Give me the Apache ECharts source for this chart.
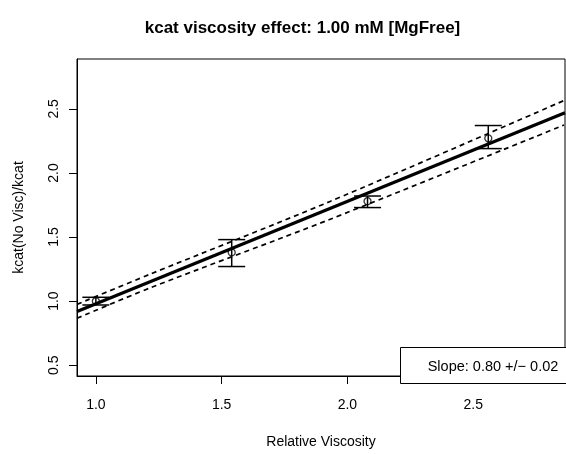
<!DOCTYPE html>
<html>
<head>
<meta charset="utf-8">
<script src="https://cdn.jsdelivr.net/npm/echarts@6/dist/echarts.min.js"></script>
<style>
html,body{margin:0;padding:0;background:#fff;}
#chart{width:566px;height:454px;}
</style>
</head>
<body>
<div id="chart"></div>
<script>
// ---- data ----
var titleText = "kcat viscosity effect: 1.00 mM [MgFree]";
var xName = "Relative Viscosity";
var yName = "kcat(No Visc)/kcat";
var legendText = "Slope: 0.80 +/\u2212 0.02";

var viscosity = [1.00, 1.54, 2.08, 2.56];
var ratio     = [1.00, 1.38, 1.78, 2.27];
var errLow    = [0.97, 1.27, 1.73, 2.19];
var errHigh   = [1.03, 1.48, 1.82, 2.37];

var fitX = [0.925, 2.865];
var fitY = [0.92, 2.47];

var bandX     = [0.925, 1.214, 1.929, 2.861];
var bandUpper = [0.975, 1.209, 1.776, 2.565];
var bandLower = [0.866, 1.102, 1.637, 2.374];

var xTicks = [1.0, 1.5, 2.0, 2.5];
var yTicks = [0.5, 1.0, 1.5, 2.0, 2.5];
var xRange = [0.925, 2.865];
var yRange = [0.416, 2.889];

function pairs(xs, ys){ return xs.map(function(x,i){ return [x, ys[i]]; }); }

var FONT = "Liberation Sans";
var chart = echarts.init(document.getElementById('chart'), null, {renderer:'canvas'});

var option = {
  animation: false,
  backgroundColor: '#fff',
  title: {
    text: titleText,
    left: 297.5,
    top: 15,
    textAlign: 'center',
    textStyle: {fontFamily: FONT, fontWeight: 'bold', fontSize: 17, color: '#000'}
  },
  grid: {left: 77, right: 1, top: 59, bottom: 71, show: true, borderColor: '#000', borderWidth: 1, backgroundColor: 'transparent'},
  xAxis: {
    type: 'value', min: xRange[0], max: xRange[1],
    name: xName, nameLocation: 'middle', nameGap: 59,
    nameTextStyle: {fontFamily: FONT, fontSize: 14, color: '#000', verticalAlign: 'top'},
    axisLine: {show: true, lineStyle: {color: '#000', width: 1}},
    axisTick: {show: true, length: 8, lineStyle: {color: '#000', width: 1}, customValues: xTicks},
    axisLabel: {fontFamily: FONT, fontSize: 14, color: '#000', margin: 22, customValues: xTicks,
      formatter: function(v){ return v.toFixed(1); }},
    splitLine: {show: false}
  },
  yAxis: {
    type: 'value', min: yRange[0], max: yRange[1],
    name: yName, nameLocation: 'middle', nameGap: 51, nameRotate: 90,
    nameTextStyle: {fontFamily: FONT, fontSize: 14, color: '#000'},
    axisLine: {show: true, lineStyle: {color: '#000', width: 1}},
    axisTick: {show: true, length: 8, lineStyle: {color: '#000', width: 1}, customValues: yTicks},
    axisLabel: {fontFamily: FONT, fontSize: 14, color: '#000', margin: 16, rotate: 90,
      align: 'center', verticalAlign: 'bottom', customValues: yTicks,
      formatter: function(v){ return v.toFixed(1); }},
    splitLine: {show: false}
  },
  series: [
    {
      type: 'line', data: pairs(fitX, fitY), symbol: 'none', clip: true,
      lineStyle: {color: '#000', width: 3.2}, z: 3
    },
    {
      type: 'line', data: pairs(bandX, bandUpper), symbol: 'none', clip: true, smooth: 0.3,
      lineStyle: {color: '#000', width: 1.7, type: [5, 4]}, z: 2
    },
    {
      type: 'line', data: pairs(bandX, bandLower), symbol: 'none', clip: true, smooth: 0.3,
      lineStyle: {color: '#000', width: 1.7, type: [5, 4]}, z: 2
    },
    {
      type: 'custom', z: 4, clip: true,
      data: viscosity.map(function(x,i){ return [x, errLow[i], errHigh[i]]; }),
      encode: {x: 0, y: [1, 2]},
      renderItem: function(params, api){
        var x = api.value(0);
        var lo = api.coord([x, api.value(1)]);
        var hi = api.coord([x, api.value(2)]);
        var hw = 13.5;
        var st = {stroke: '#000', lineWidth: 1.5};
        return {type: 'group', children: [
          {type: 'line', shape: {x1: lo[0], y1: lo[1], x2: hi[0], y2: hi[1]}, style: st},
          {type: 'line', shape: {x1: lo[0]-hw, y1: lo[1], x2: lo[0]+hw, y2: lo[1]}, style: st},
          {type: 'line', shape: {x1: hi[0]-hw, y1: hi[1], x2: hi[0]+hw, y2: hi[1]}, style: st}
        ]};
      }
    },
    {
      type: 'scatter', data: pairs(viscosity, ratio), symbol: 'circle', symbolSize: 7,
      itemStyle: {color: 'rgba(0,0,0,0)', borderColor: '#000', borderWidth: 1.3}, z: 5
    }
  ],
  graphic: [
    {type: 'rect', z: 10, shape: {x: 400.5, y: 347.5, width: 170, height: 36},
      style: {fill: '#fff', stroke: '#000', lineWidth: 1}},
    {type: 'text', z: 11, style: {text: legendText, x: 493, y: 367, align: 'center', verticalAlign: 'middle',
      font: '14.5px "Liberation Sans"', fill: '#000'}}
  ]
};
chart.setOption(option);
</script>
</body>
</html>
